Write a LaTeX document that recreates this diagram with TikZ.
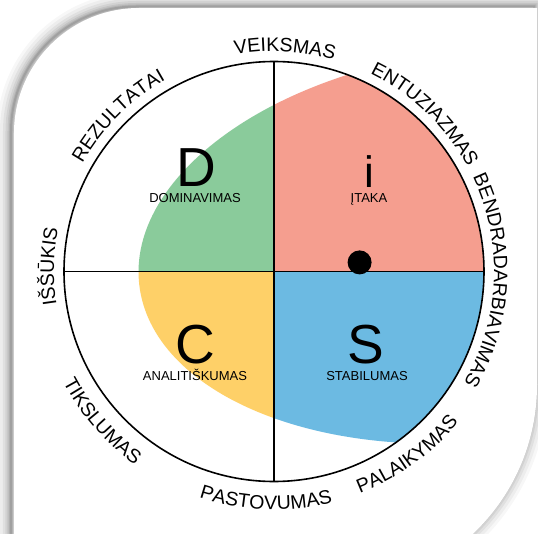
\documentclass[tikz,border=0pt]{standalone}
\usepackage{fontspec}
\setmainfont{Liberation Sans}
\usetikzlibrary{decorations.text}
\definecolor{discgreen}{RGB}{138,203,155}
\definecolor{discpink}{RGB}{245,158,143}
\definecolor{discyellow}{RGB}{254,208,104}
\definecolor{discblue}{RGB}{108,186,226}
\newcommand\labelfont{\fontsize{19.5}{20}\selectfont}
\newcommand\toplabel[2]{%
  \path[decorate,decoration={text along path,text align=center,text={|\labelfont|#2}}]
    (#1+70:220pt) arc[start angle=#1+70,end angle=#1-70,radius=220pt];}
\newcommand\botlabel[2]{%
  \path[decorate,decoration={text along path,text align=center,text={|\labelfont|#2}}]
    (#1-70:238pt) arc[start angle=#1-70,end angle=#1+70,radius=238pt];}
\begin{document}
\begin{tikzpicture}[x=1pt,y=1pt,
  cardpath/.style={insert path={(-260,-318.5) -- (-260,138.5) arc[start angle=180,end angle=90,radius=125pt] -- (263,263.5) -- (263,-113.5) arc[start angle=0,end angle=-90,radius=205pt] -- cycle}},
  blob/.style={insert path={[rotate around={6.6:(206,26)}] (206,26) ellipse[x radius=343pt,y radius=195.5pt]}},
  bigletter/.style={font=\fontsize{55}{55}\selectfont,anchor=base,inner sep=0pt},
  smalllabel/.style={font=\fontsize{13}{13}\selectfont,anchor=base,inner sep=0pt}]
\useasboundingbox (-274,-261.5) rectangle (264,271.5);
\fill[white] (-274,-261.5) rectangle (264,271.5);
% shadow
\begin{scope}[xshift=-3pt,yshift=1.5pt]
\foreach \w/\o in {28/0.03,22/0.04,16/0.05,11/0.06,7/0.07,4/0.08,2/0.1}
  \draw[line width=\w pt,black,opacity=\o,cardpath];
\end{scope}
\fill[white,cardpath];
% coloured quadrants
\begin{scope}
  \clip (0,0) circle[radius=210pt];
  \clip[blob];
  \fill[discgreen] (0,0) rectangle (-215,215);
  \fill[discpink] (0,0) rectangle (215,215);
  \fill[discyellow] (0,0) rectangle (-215,-215);
  \fill[discblue] (0,0) rectangle (215,-215);
\end{scope}
% axes and circle
\coordinate (ctop) at (90:210pt);
\coordinate (cbot) at (-90:210pt);
\coordinate (cleft) at (180:210pt);
\coordinate (cright) at (0:210pt);
\draw[line width=1.1pt] (ctop) -- (cbot);
\draw[line width=1.1pt] (cleft) -- (cright);
\draw[line width=1.6pt] (0,0) circle[radius=210pt];
% letters
\node[bigletter] (D) at (-78,84.8) {D};
\node[bigletter,font=\fontsize{44}{44}\selectfont] (I) at (95,84.5) {i};
\node[bigletter] (C) at (-79,-91.5) {C};
\node[bigletter] (S) at (92,-91.5) {S};
\node[smalllabel] (dl) at (-79,68.8) {DOMINAVIMAS};
\node[smalllabel] (il) at (95,68.8) {ĮTAKA};
\node[smalllabel] (cl) at (-79,-108.5) {ANALITIŠKUMAS};
\node[smalllabel] (sl) at (93,-108.5) {STABILUMAS};
% dot
\fill (85.6,9.1) circle[radius=12pt];
% outer labels
\toplabel{178.7}{IŠŠŪKIS}
\toplabel{135}{REZULTATAI}
\toplabel{87.2}{VEIKSMAS}
\toplabel{46.2}{ENTUZIAZMAS}
\toplabel{-2.5}{BENDRADARBIAVIMAS}
\botlabel{-54}{PALAIKYMAS}
\botlabel{-92}{PASTOVUMAS}
\botlabel{-139}{TIKSLUMAS}
\end{tikzpicture}
\end{document}
